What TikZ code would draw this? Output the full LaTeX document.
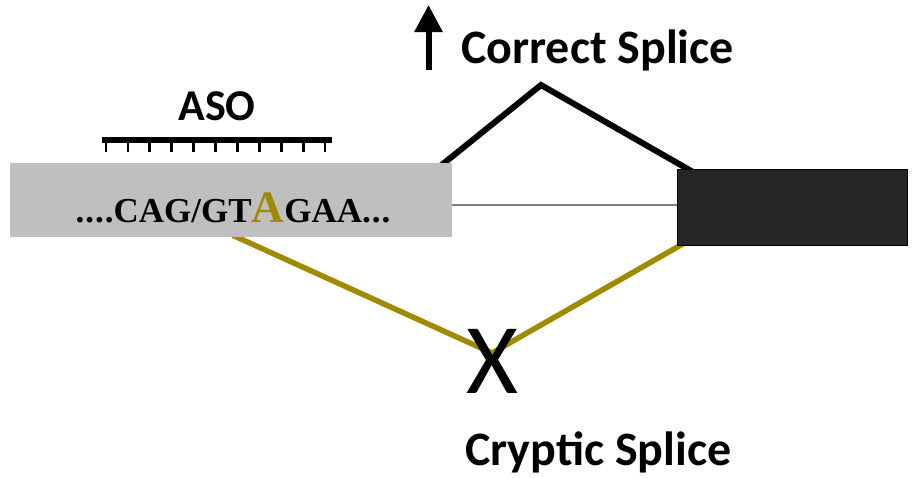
\documentclass[tikz,border=0pt]{standalone}
\usepackage{fontspec}
\setmainfont{Carlito}
\newfontfamily\seqfont{Liberation Serif}
\usetikzlibrary{arrows.meta,backgrounds}
\definecolor{olivesplice}{RGB}{160,138,0}
\definecolor{exongray}{RGB}{191,191,191}
\definecolor{exondark}{RGB}{38,38,38}
\begin{document}
\begin{tikzpicture}[x=1pt,y=-1pt,
  biglabel/.style={font=\fontsize{48}{48}\selectfont\bfseries, inner sep=0},
  correctline/.style={line width=6pt, black, line join=miter},
  crypticline/.style={line width=5.5pt, olivesplice}]
\useasboundingbox (0,0) rectangle (912,477);
% exons
\node[fill=exongray, minimum width=442pt, minimum height=74pt, inner sep=0, anchor=north west] (ex1) at (10,163) {};
\node[fill=exondark, draw=black, line width=0.8pt, minimum width=230pt, minimum height=76pt, inner sep=0, anchor=north west] (ex2) at (677,169) {};
% sequence
\node[anchor=base, inner sep=0, font=\seqfont\bfseries\fontsize{35}{35}\selectfont] (seq) at (233,222.7)
  {.\kern1pt.\kern1pt.\kern1pt.CAG/GT{\fontsize{45}{45}\selectfont\color{olivesplice}A}GAA.\kern1pt.\kern1pt.};
% ASO
\node[biglabel, font=\fontsize{44}{44}\selectfont\bfseries, anchor=base] (asolabel) at (217,120) {ASO};
\coordinate (asoL) at (102,139.5);
\coordinate (asoR) at (332,139.5);
\draw[line width=6pt] (asoL) -- (asoR);
\foreach \i in {0,...,10} \draw[line width=2.8pt] (106+21.9*\i,140) -- ++(0,11.5);
% labels
\node[biglabel, anchor=base west] (correct) at (461,63) {Correct Splice};
\node[biglabel, anchor=base west] (cryptic) at (465,465) {Cryptic Splice};
\node[font=\fontsize{100}{100}\selectfont, inner sep=0, anchor=base] (xmark) at (492,393) {X};
% arrow
\coordinate (arrB) at (428.5,70);
\coordinate (arrT) at (428.5,5);
\draw[line width=6pt, -{Triangle[width=27pt,length=27pt]}] (arrB) -- (arrT);
% splice lines
\coordinate (cstop) at (541,85);
\coordinate (crbot) at (492,353);
\begin{pgfonlayer}{background}
\fill[white] (0,0) rectangle (912,477);
\draw[gray, line width=1.2pt] (ex1.east |- 0,205) -- (ex2.west |- 0,205);
\draw[correctline] ([xshift=-12pt,yshift=-3pt]ex1.north east) -- (cstop) -- ([xshift=16pt,yshift=-3pt]ex2.north west);
\draw[crypticline] ([xshift=223pt,yshift=2pt]ex1.south west) -- (crbot) -- ([xshift=6pt,yshift=2pt]ex2.south west);
\end{pgfonlayer}
\end{tikzpicture}
\end{document}
